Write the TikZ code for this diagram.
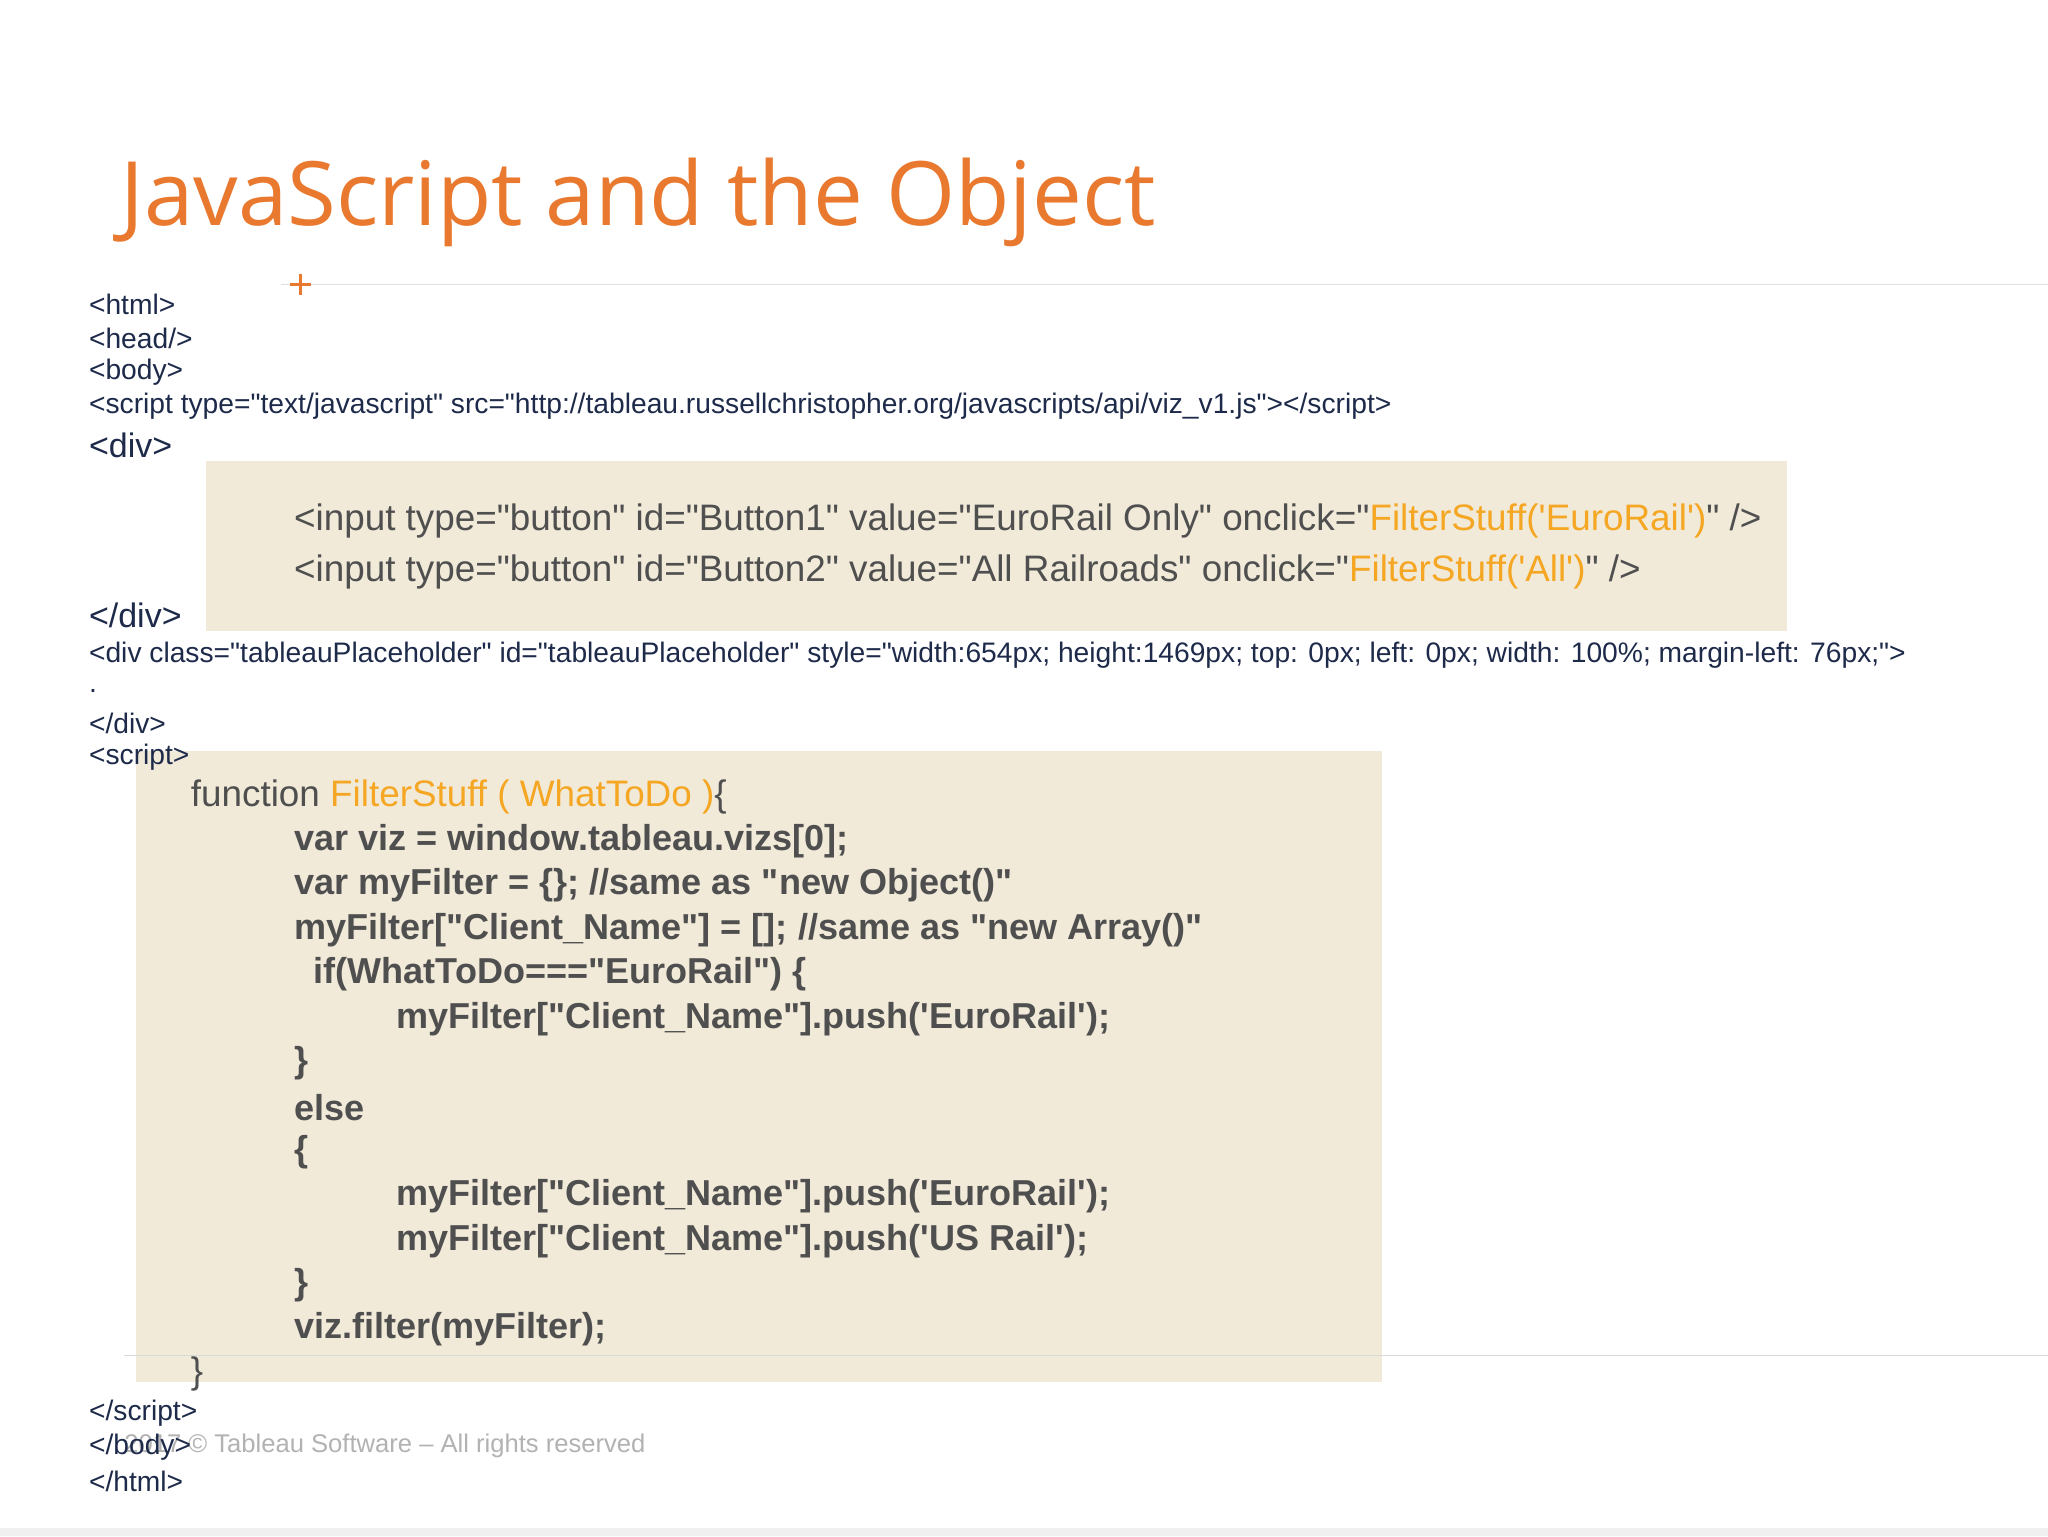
\documentclass[tikz,border=0pt]{standalone}
\usepackage{fontspec}
\defaultfontfeatures[\rmfamily]{}
\setmainfont{Liberation Sans}[Ligatures=TeXOff]
\newfontfamily\titlefont{Open Sans}
\newcommand{\dq}{\char34\relax}
\newcommand{\sq}{\char39\relax}
\definecolor{navy}{HTML}{1E2A4A}
\definecolor{codegray}{HTML}{4F4F4F}
\definecolor{hl}{HTML}{F5A623}
\definecolor{boxbg}{HTML}{F1EAD9}
\definecolor{titleor}{HTML}{E8792F}
\begin{document}
\begin{tikzpicture}[x=1pt,y=-1pt,
  sm/.style={anchor=west,inner sep=0,text=navy,font=\fontsize{21.6}{24}\selectfont},
  md/.style={anchor=west,inner sep=0,text=navy,font=\fontsize{26}{29}\selectfont},
  cd/.style={anchor=west,inner sep=0,text=codegray,font=\fontsize{28.2}{31}\selectfont},
  cb/.style={anchor=west,inner sep=0,text=codegray,font=\fontsize{27.6}{31}\selectfont\bfseries}]
\useasboundingbox (0,0) rectangle (1568,1176);
\fill[white] (0,0) rectangle (1568,1176);
\fill[gray!12] (0,1170) rectangle (1568,1176);
\draw[gray!25,line width=1] (215,218) -- (1568,218);
\draw[titleor,line width=2] (222,218) -- (238,218) (230,210) -- (230,226);
\node[anchor=west,inner sep=0,text=titleor,font=\titlefont\fontsize{68}{76}\selectfont] (title) at (92,155) {JavaScript and the Object};
\fill[boxbg] (158,353) rectangle (1368,483);
\fill[boxbg] (104,575) rectangle (1058,1058);
\draw[gray!30,line width=1] (95,1038) -- (1568,1038);
\node[sm] (l1) at (68,233) {<html>};
\node[sm] (l2) at (68,259) {<head/>};
\node[sm] (l3) at (68,285) {<body>};
\node[sm] (l4) at (68,311) {<script type=\dq text/javascript\dq{} src=\dq http://tableau.russellchristopher.org/javascripts/api/viz\_v1.js\dq></script>};
\node[md] (l5) at (68,341) {<div>};
\node[cd] (b1) at (225,399) {<input type=\dq button\dq{} id=\dq Button1\dq{} value=\dq EuroRail Only\dq{} onclick=\dq\textcolor{hl}{FilterStuff(\sq EuroRail\sq)}\dq{} />};
\node[cd] (b2) at (225,438) {<input type=\dq button\dq{} id=\dq Button2\dq{} value=\dq All Railroads\dq{} onclick=\dq\textcolor{hl}{FilterStuff(\sq All\sq)}\dq{} />};
\node[md] (l6) at (68,471) {</div>};
\node[sm] (l7) at (68,502) {<div class=\dq tableauPlaceholder\dq{} id=\dq tableauPlaceholder\dq{} style=\dq width:654px; height:1469px; top: 0px; left: 0px; width: 100\%; margin-left: 76px;\dq>};
\node[sm] (l8) at (68,529) {.};
\node[sm] (l9) at (68,554) {</div>};
\node[sm] (l10) at (68,580) {<script>};
\node[cd] (c1) at (146,610) {function \textcolor{hl}{FilterStuff ( WhatToDo )}\{};
\node[cb] (c2) at (225,644) {var viz = window.tableau.vizs[0];};
\node[cb] (c3) at (225,678) {var myFilter = \{\}; //same as \dq new Object()\dq};
\node[cb] (c4) at (225,712) {myFilter[\dq Client\_Name\dq] = []; //same as \dq new Array()\dq};
\node[cb] (c5) at (240,746) {if(WhatToDo===\dq EuroRail\dq) \{};
\node[cb] (c6) at (303,780) {myFilter[\dq Client\_Name\dq].push(\sq EuroRail\sq);};
\node[cb] (c7) at (225,814) {\}};
\node[cb] (c8) at (225,848) {else};
\node[cb] (c9) at (225,882) {\{};
\node[cb] (c10) at (303,916) {myFilter[\dq Client\_Name\dq].push(\sq EuroRail\sq);};
\node[cb] (c11) at (303,950) {myFilter[\dq Client\_Name\dq].push(\sq US Rail\sq);};
\node[cb] (c12) at (225,984) {\}};
\node[cb] (c13) at (225,1018) {viz.filter(myFilter);};
\node[cd] (c14) at (146,1052) {\}};
\node[sm] (l11) at (68,1082) {</script>};
\node[anchor=west,inner sep=0,text=gray!60,font=\fontsize{19.6}{22}\selectfont] (foot) at (95,1107) {2017 © Tableau Software – All rights reserved};
\node[sm] (l12) at (68,1108) {</body>};
\node[sm] (l13) at (68,1134) {</html>};
\end{tikzpicture}
\end{document}
